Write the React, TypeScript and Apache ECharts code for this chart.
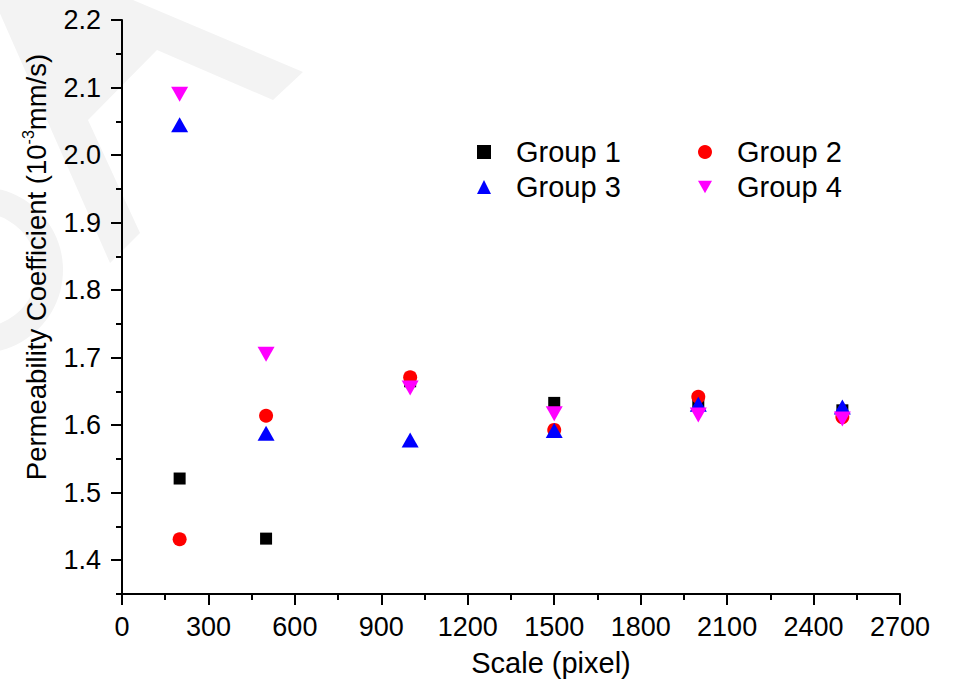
import React, { useEffect, useRef } from 'react';
import * as echarts from 'echarts';

const xValues = [200, 500, 1000, 1500, 2000, 2500];
const group1 = [1.521, 1.432, 1.665, 1.633, 1.635, 1.622];
const group2 = [1.431, 1.614, 1.671, 1.593, 1.642, 1.612];
const group3 = [2.045, 1.588, 1.578, 1.592, 1.631, 1.627];
const group4 = [2.09, 1.705, 1.655, 1.617, 1.615, 1.609];
const seriesNames = ['Group 1', 'Group 2', 'Group 3', 'Group 4'];
const xTicks = [0, 300, 600, 900, 1200, 1500, 1800, 2100, 2400, 2700];
const yTicks = [1.4, 1.5, 1.6, 1.7, 1.8, 1.9, 2.0, 2.1, 2.2];
const yMinorTicks = [1.35, 1.45, 1.55, 1.65, 1.75, 1.85, 1.95, 2.05, 2.15];

const FONT = 'Liberation Sans, Arial, sans-serif';

export default function App() {
  const ref = useRef<HTMLDivElement>(null);
  useEffect(() => {
    if (!ref.current) return;
    const chart = echarts.init(ref.current, null, { renderer: 'svg' });
    const pair = (ys: number[]) => xValues.map((x, i) => [x, ys[i]]);
    const tickStyle = { color: '#000', width: 2 };
    const legendBase = {
      orient: 'vertical',
      top: 137,
      itemWidth: 14,
      itemHeight: 14,
      itemGap: 5,
      padding: 0,
      textStyle: {
        fontSize: 29,
        fontFamily: FONT,
        color: '#000',
        lineHeight: 30,
        padding: [0, 0, 0, 20],
      },
    };
    chart.setOption({
      animation: false,
      backgroundColor: '#ffffff',
      graphic: {
        elements: [
          {
            type: 'polygon',
            silent: true,
            z: -10,
            shape: {
              points: [[-6, 0], [133, 0], [303, 72], [273, 100], [157, 50], [88, 120], [140, 233], [110, 263]],
            },
            style: { fill: '#f3f3f3' },
          },
          {
            type: 'ring',
            silent: true,
            z: -10,
            shape: { cx: -20, cy: 270, r: 83, r0: 57 },
            style: { fill: '#f3f3f3' },
          },
        ],
      },
      grid: { left: 122, right: 58, top: 20, bottom: 86, containLabel: false },
      legend: [
        { ...legendBase, left: 477, data: [seriesNames[0], seriesNames[2]] },
        {
          ...legendBase,
          left: 698,
          data: [seriesNames[1], { name: seriesNames[3], icon: 'path://M0,0L17,0L8.5,15Z' }],
        },
      ],
      xAxis: {
        type: 'value',
        min: 0,
        max: 2700,
        interval: 300,
        axisLine: { show: true, onZero: false, lineStyle: tickStyle },
        axisTick: { show: true, length: 11, lineStyle: tickStyle },
        minorTick: { show: true, splitNumber: 2, length: 6, lineStyle: tickStyle },
        axisLabel: {
          margin: 19,
          fontSize: 27,
          fontFamily: FONT,
          color: '#000',
          customValues: xTicks,
          formatter: (v: number) => String(Math.round(v)),
        },
        splitLine: { show: false },
        name: 'Scale (pixel)',
        nameLocation: 'middle',
        nameGap: 54,
        nameTextStyle: {
          fontSize: 29,
          fontFamily: FONT,
          color: '#000',
          lineHeight: 30,
          padding: [0, 0, 0, 80],
        },
      },
      yAxis: [
        {
          type: 'value',
          min: 1.35,
          max: 2.2,
          axisLine: { show: true, onZero: false, lineStyle: tickStyle },
          axisTick: { show: true, length: 11, lineStyle: tickStyle, customValues: yTicks },
          axisLabel: {
            margin: 21,
            fontSize: 27,
            fontFamily: FONT,
            color: '#000',
            customValues: yTicks,
            formatter: (v: number) => v.toFixed(1),
          },
          splitLine: { show: false },
          name: 'Permeability Coefficient (10{s|-3}mm/s)',
          nameLocation: 'middle',
          nameGap: 65,
          nameTextStyle: {
            fontSize: 27.5,
            fontFamily: FONT,
            color: '#000',
            lineHeight: 32,
            padding: [0, 0, 0, 80],
            rich: {
              s: { fontSize: 16, fontFamily: FONT, color: '#000', verticalAlign: 'top' },
            },
          },
        },
        {
          type: 'value',
          min: 1.35,
          max: 2.2,
          position: 'left',
          axisLine: { show: false, onZero: false },
          axisTick: { show: true, length: 6, lineStyle: tickStyle, customValues: yMinorTicks },
          axisLabel: { show: false },
          splitLine: { show: false },
        },
      ],
      series: [
        {
          name: seriesNames[0],
          type: 'scatter',
          data: pair(group1),
          symbol: 'rect',
          symbolSize: 12,
          itemStyle: { color: '#000000', opacity: 1 },
        },
        {
          name: seriesNames[1],
          type: 'scatter',
          data: pair(group2),
          symbol: 'circle',
          symbolSize: 14,
          itemStyle: { color: '#ff0000', opacity: 1 },
        },
        {
          name: seriesNames[2],
          type: 'scatter',
          data: pair(group3),
          symbol: 'triangle',
          symbolSize: [17, 15],
          itemStyle: { color: '#0000ff', opacity: 1 },
        },
        {
          name: seriesNames[3],
          type: 'scatter',
          data: pair(group4),
          symbol: 'triangle',
          symbolSize: [17, 15],
          symbolRotate: 180,
          itemStyle: { color: '#ff00ff', opacity: 1 },
        },
      ],
    });
    return () => chart.dispose();
  }, []);
  return (
    <div
      ref={ref}
      style={{ position: 'fixed', left: 0, top: 0, width: 958, height: 683, background: '#fff' }}
    />
  );
}
